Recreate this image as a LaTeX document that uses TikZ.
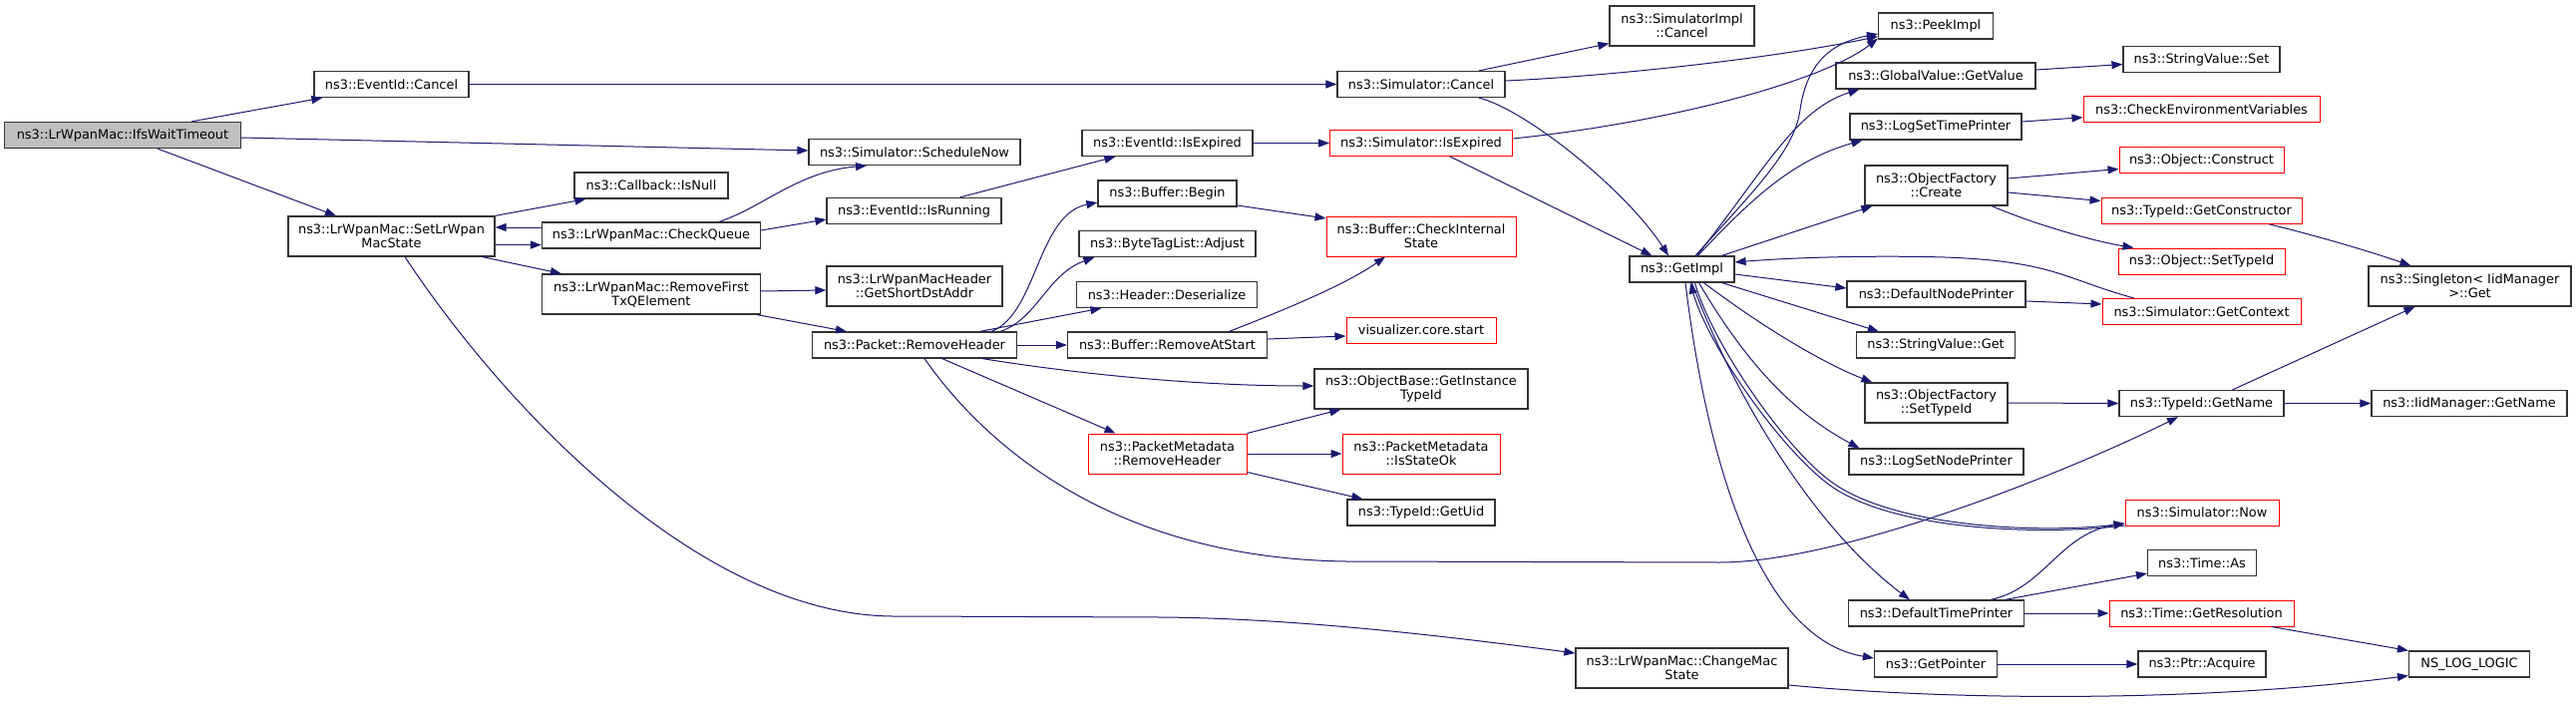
\documentclass[tikz,border=0pt]{standalone}
\usepackage{fontspec}
\setmainfont{DejaVu Sans}
\usetikzlibrary{arrows.meta,calc}
\definecolor{edgeblue}{RGB}{25,25,112}
\begin{document}
\begin{tikzpicture}[x=1bp,y=-1bp,
  box/.style={draw=black!80,line width=1.2bp,fill=white,minimum height=26bp,inner xsep=2bp,inner ysep=1bp,font=\fontsize{12.9bp}{14bp}\selectfont,align=center},
  box2/.style={box,minimum height=40bp},
  redb/.style={draw=red,line width=1bp},
  rootb/.style={fill=black!25},
  edge/.style={draw=edgeblue,line width=1bp,-{Triangle[length=11bp,width=8bp]}}]
\fill[white] (0,0) rectangle (2583,709);
\useasboundingbox (0,0) rectangle (2583,709);
% column 0
\node[box,rootb,minimum width=237bp] (ifs) at (123,135.5) {ns3::LrWpanMac::IfsWaitTimeout};
% column 1
\node[box,minimum width=155bp] (ec) at (392.5,84.5) {ns3::EventId::Cancel};
\node[box2,minimum width=207bp] (slms) at (392.5,237) {ns3::LrWpanMac::SetLrWpan\\MacState};
% column 2
\node[box,minimum width=154bp] (isnull) at (653,186) {ns3::Callback::IsNull};
\node[box,minimum width=219bp] (cq) at (653,236) {ns3::LrWpanMac::CheckQueue};
\node[box2,minimum width=219bp] (rf) at (653,295) {ns3::LrWpanMac::RemoveFirst\\TxQElement};
% column 3
\node[box,minimum width=212bp] (sn) at (917,152.5) {ns3::Simulator::ScheduleNow};
\node[box,minimum width=175bp] (isr) at (916.5,211.5) {ns3::EventId::IsRunning};
\node[box2,minimum width=176bp] (gsd) at (917,287) {ns3::LrWpanMacHeader\\::GetShortDstAddr};
\node[box,minimum width=205bp] (prh) at (917,346) {ns3::Packet::RemoveHeader};
% column 4
\node[box,minimum width=171bp] (eie) at (1170.5,143.5) {ns3::EventId::IsExpired};
\node[box,minimum width=139bp] (bb) at (1170.5,194) {ns3::Buffer::Begin};
\node[box,minimum width=177bp] (bta) at (1170.5,244.5) {ns3::ByteTagList::Adjust};
\node[box,minimum width=181bp] (hd) at (1170,295.5) {ns3::Header::Deserialize};
\node[box,minimum width=200bp] (ras) at (1170.5,346) {ns3::Buffer::RemoveAtStart};
\node[box2,redb,minimum width=159bp] (pmrh) at (1170.5,455) {ns3::PacketMetadata\\::RemoveHeader};
% column 5
\node[box,minimum width=168bp] (sc) at (1425,84.5) {ns3::Simulator::Cancel};
\node[box,redb,minimum width=183bp] (sie) at (1425,143.5) {ns3::Simulator::IsExpired};
\node[box2,redb,minimum width=190bp] (cis) at (1425,237) {ns3::Buffer::CheckInternal\\State};
\node[box,redb,minimum width=150bp] (vis) at (1425,331) {visualizer.core.start};
\node[box2,minimum width=214bp] (giti) at (1425,390) {ns3::ObjectBase::GetInstance\\TypeId};
\node[box2,redb,minimum width=158bp] (iso) at (1425,455) {ns3::PacketMetadata\\::IsStateOk};
\node[box,minimum width=148bp] (uid) at (1425,514) {ns3::TypeId::GetUid};
% column 6
\node[box2,minimum width=145bp] (sic) at (1686.5,26) {ns3::SimulatorImpl\\::Cancel};
\node[box,minimum width=105bp] (gi) at (1686.5,270) {ns3::GetImpl};
\node[box2,minimum width=213bp] (cms) at (1686.5,670) {ns3::LrWpanMac::ChangeMac\\State};
% column 7
\node[box,minimum width=115bp] (pi) at (1941,26) {ns3::PeekImpl};
\node[box,minimum width=200bp] (gv) at (1941,76) {ns3::GlobalValue::GetValue};
\node[box,minimum width=172bp] (lstp) at (1941,127) {ns3::LogSetTimePrinter};
\node[box2,minimum width=143bp] (ofc) at (1941.5,186) {ns3::ObjectFactory\\::Create};
\node[box,minimum width=179bp] (dnp) at (1941.5,295) {ns3::DefaultNodePrinter};
\node[box,minimum width=159bp] (svg) at (1941,346) {ns3::StringValue::Get};
\node[box2,minimum width=143bp] (ofs) at (1941.5,404) {ns3::ObjectFactory\\::SetTypeId};
\node[box,minimum width=175bp] (lsnp) at (1941.5,463) {ns3::LogSetNodePrinter};
\node[box,minimum width=176bp] (dtp) at (1941.5,615) {ns3::DefaultTimePrinter};
\node[box,minimum width=123bp] (gp) at (1941,666) {ns3::GetPointer};
% column 8
\node[box,minimum width=157bp] (svs) at (2207.5,59.5) {ns3::StringValue::Set};
\node[box,redb,minimum width=237bp] (cev) at (2207.5,110) {ns3::CheckEnvironmentVariables};
\node[box,redb,minimum width=165bp] (oc) at (2207.5,160.5) {ns3::Object::Construct};
\node[box,redb,minimum width=201bp] (gc) at (2207.5,211.5) {ns3::TypeId::GetConstructor};
\node[box,redb,minimum width=167bp] (ost) at (2207.5,262) {ns3::Object::SetTypeId};
\node[box,redb,minimum width=199bp] (gctx) at (2207.5,312.5) {ns3::Simulator::GetContext};
\node[box,minimum width=165bp] (tgn) at (2207.5,404.5) {ns3::TypeId::GetName};
\node[box,redb,minimum width=154bp] (now) at (2208,514) {ns3::Simulator::Now};
\node[box,minimum width=109bp] (tas) at (2208,564.5) {ns3::Time::As};
\node[box,redb,minimum width=185bp] (gres) at (2207.5,615) {ns3::Time::GetResolution};
\node[box,minimum width=128bp] (pa) at (2208,666) {ns3::Ptr::Acquire};
% column 9
\node[box2,minimum width=203bp] (sing) at (2476.5,287) {ns3::Singleton< IidManager\\>::Get};
\node[box,minimum width=196bp] (imgn) at (2476,404.5) {ns3::IidManager::GetName};
\node[box,minimum width=121bp] (nll) at (2476,666) {NS\_LOG\_LOGIC};
% edges
\draw[edge] ($(ifs.north)+(69,0)$) -- ($(ec.south west)+(9,0)$);
\draw[edge] ($(ifs.east)+(0,2.5)$) -- ($(sn.west)+(0,-1.5)$);
\draw[edge] ($(ifs.south)+(35,0)$) -- ($(slms.north)+(-55.5,0)$);
\draw[edge] (slms.north east) -- ($(isnull.south west)+(12,0)$);
\draw[edge] ($(cq.west)+(0,-8)$) -- ($(slms.east)+(0,-9)$);
\draw[edge] ($(slms.east)+(0,8.6)$) -- ($(cq.west)+(0,9.6)$);
\draw[edge] ($(slms.south east)+(-13,0)$) -- ($(rf.north west)+(20,0)$);
\draw[edge] ($(slms.south)+(13.5,0)$) .. controls (500,400) and (700,620) .. (900,618) -- (1163,619) .. controls (1300,620) and (1450,638) .. ($(cms.west)+(0,-15)$);
\draw[edge] ($(cq.north)+(68,0)$) .. controls (765,208) and (800,172) .. ($(sn.south)+(-48,0)$);
\draw[edge] ($(cq.east)+(0,-5)$) -- ($(isr.west)+(0,8.5)$);
\draw[edge] ($(rf.east)+(0,-3)$) -- ($(gsd.west)+(0,4)$);
\draw[edge] ($(rf.south east)+(-4,0)$) -- ($(prh.north west)+(35,0)$);
\draw[edge] ($(isr.north)+(46,0)$) -- ($(eie.south west)+(34,0)$);
\draw[edge] ($(prh.north)+(77,0)$) .. controls (1040,315) and (1040,215) .. ($(bb.west)+(0,9)$);
\draw[edge] ($(prh.north)+(86,0)$) .. controls (1040,320) and (1050,275) .. ($(bta.south west)+(16,0)$);
\draw[edge] ($(prh.north)+(65.6,0)$) -- ($(hd.south west)+(25.5,0)$);
\draw[edge] (prh.east) -- (ras.west);
\draw[edge] ($(prh.south)+(68,0)$) .. controls (1080,375) and (1200,387) .. ($(giti.west)+(0,-3)$);
\draw[edge] ($(prh.south)+(27.6,0)$) -- ($(pmrh.north)+(-52,0)$);
\draw[edge] ($(prh.south)+(10,0)$) .. controls (990,450) and (1120,560) .. (1350,563) -- (1724,564) .. controls (1850,564) and (2080,470) .. ($(tgn.south)+(-23.5,0)$);
\draw[edge] ($(bb.east)+(0,12)$) -- ($(cis.west)+(0,-18)$);
\draw[edge] ($(ras.north)+(62,0)$) .. controls (1290,310) and (1350,285) .. ($(cis.south)+(-36,0)$);
\draw[edge] ($(ras.east)+(0,-6)$) -- ($(vis.west)+(0,6)$);
\draw[edge] (ec.east) -- (sc.west);
\draw[edge] (eie.east) -- (sie.west);
\draw[edge] ($(sc.north)+(58,0)$) -- ($(sic.south west)+(0,-3)$);
\draw[edge] ($(sc.east)+(0,-3.5)$) .. controls (1620,76) and (1780,58) .. ($(pi.south west)+(0,-3)$);
\draw[edge] ($(sie.east)+(0,-4.5)$) .. controls (1680,122) and (1830,80) .. ($(pi.south west)+(0,-1)$);
\draw[edge] ($(sie.south)+(29,0)$) -- ($(gi.north west)+(23,0)$);
\draw[edge] ($(sc.south)+(58,0)$) .. controls (1530,110) and (1630,190) .. ($(gi.north)+(-13.5,0)$);
\draw[edge] ($(gi.north)+(13.5,0)$) .. controls (1760,190) and (1800,150) .. (1805,110) .. controls (1812,60) and (1840,42) .. ($(pi.west)+(0,8)$);
\draw[edge] ($(gi.north)+(15,0)$) .. controls (1770,170) and (1800,110) .. ($(gv.south west)+(24,0)$);
\draw[edge] ($(gi.north)+(16,0)$) .. controls (1760,195) and (1800,160) .. ($(lstp.south west)+(13,0)$);
\draw[edge] ($(gi.north)+(40,0)$) -- ($(ofc.south west)+(8,0)$);
\draw[edge] ($(gi.east)+(0,5)$) -- ($(dnp.west)+(0,-6)$);
\draw[edge] ($(gi.south)+(40,0)$) -- ($(svg.north west)+(23,0)$);
\draw[edge] ($(gi.south)+(22,0)$) .. controls (1770,330) and (1830,365) .. ($(ofs.north west)+(8,0)$);
\draw[edge] ($(gi.south)+(17,0)$) .. controls (1760,380) and (1810,420) .. ($(lsnp.north west)+(11,0)$);
\draw[edge] ($(gi.south)+(10,0)$) .. controls (1740,400) and (1820,530) .. ($(dtp.north west)+(62,0)$);
\draw[edge] ($(gi.south)+(13,0)$) .. controls (1715,340) and (1786,446) .. (1836,483) .. controls (1900,530) and (2050,535) .. ($(now.west)+(0,11)$);
\draw[edge] ($(now.west)+(0,13)$) .. controls (2050,537) and (1898,533) .. (1834,486) .. controls (1784,449) and (1712,345) .. ($(gi.south)+(8.5,0)$);
\draw[edge] ($(gi.south)+(3.5,0)$) .. controls (1710,450) and (1760,640) .. ($(gp.west)+(0,-6)$);
\draw[edge] ($(gctx.north)+(-67.5,0)$) .. controls (2070,280) and (2060,262) .. (1950,258) .. controls (1880,256) and (1800,258) .. ($(gi.east)+(0,-7)$);
\draw[edge] ($(dnp.east)+(0,7)$) -- ($(gctx.west)+(0,-7.5)$);
\draw[edge] ($(gv.east)+(0,-6)$) -- ($(svs.west)+(0,5)$);
\draw[edge] ($(lstp.east)+(0,-5)$) -- ($(cev.west)+(0,7.7)$);
\draw[edge] ($(ofc.east)+(0,-7)$) -- ($(oc.west)+(0,9)$);
\draw[edge] ($(ofc.east)+(0,7)$) -- ($(gc.west)+(0,-10)$);
\draw[edge] ($(ofc.south east)+(-16.5,0)$) .. controls (2040,225) and (2100,242) .. ($(ost.north west)+(16,0)$);
\draw[edge] ($(gc.south east)+(-33,0)$) .. controls (2310,233) and (2370,250) .. ($(sing.north west)+(43,0)$);
\draw[edge] ($(tgn.north)+(31,0)$) -- ($(sing.south west)+(47,0)$);
\draw[edge] (tgn.east) -- (imgn.west);
\draw[edge] (ofs.east) -- (tgn.west);
\draw[edge] ($(dtp.north)+(54.5,0)$) .. controls (2050,590) and (2065,535) .. ($(now.west)+(0,11)$);
\draw[edge] ($(dtp.north)+(69,0)$) -- ($(tas.south west)+(0,-3)$);
\draw[edge] (dtp.east) -- (gres.west);
\draw[edge] ($(gres.south east)+(-23,0)$) -- (nll.north west);
\draw[edge] (gp.east) -- (pa.west);
\draw[edge] ($(cms.east)+(0,17)$) .. controls (1950,702) and (2200,705) .. ($(nll.south west)+(0,-2)$);
\draw[edge] (pmrh.north east) -- ($(giti.south west)+(27,0)$);
\draw[edge] (pmrh.east) -- (iso.west);
\draw[edge] ($(pmrh.south east)+(0,-2)$) -- ($(uid.north west)+(16,0)$);
\end{tikzpicture}
\end{document}
